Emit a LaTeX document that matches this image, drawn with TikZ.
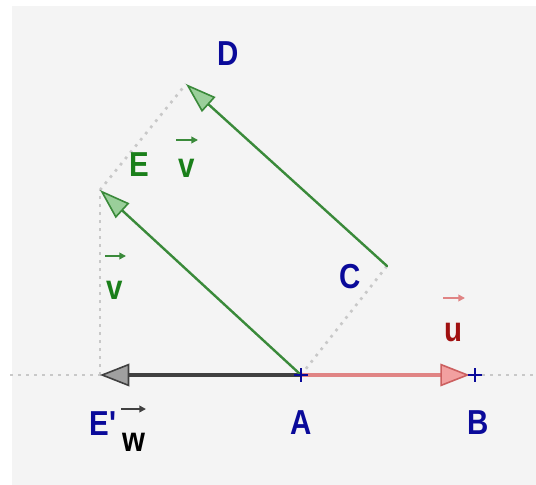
\documentclass[tikz,border=0pt]{standalone}
\usepackage{fontspec}
\setmainfont{Liberation Sans}[Ligatures=TeXOff]
\usetikzlibrary{arrows.meta}
\definecolor{bg}{HTML}{F4F4F4}
\definecolor{ptblue}{HTML}{0A0A9A}
\definecolor{lblgreen}{HTML}{1A7F1A}
\definecolor{vgreen}{HTML}{3A8A3A}
\definecolor{vgreenfill}{HTML}{9ACF9A}
\definecolor{ured}{HTML}{A01010}
\definecolor{uline}{HTML}{E08484}
\definecolor{uedge}{HTML}{CC6060}
\definecolor{ufill}{HTML}{F2A0A0}
\definecolor{wline}{HTML}{404040}
\definecolor{wfill}{HTML}{A0A0A0}
\definecolor{dotgray}{HTML}{C8C8C8}
\newcommand{\nlbl}[1]{\scalebox{0.85}[1]{#1}}
\begin{document}
\begin{tikzpicture}[x=0.75pt,y=-0.75pt,
  dotline/.style={dotgray,line width=2pt,dash pattern=on 2pt off 4pt},
  vecline/.style={line width=1.8pt,line cap=round},
  gvec/.style={vecline,vgreen,-{Triangle[length=23pt,width=15pt,fill=vgreenfill,line width=1.2pt]}},
  rvec/.style={vecline,line width=2.3pt,uline,shorten >=4pt,-{Triangle[length=22pt,width=17pt,fill=ufill,color=uedge,line width=1.2pt]}},
  wvec/.style={vecline,line width=2.3pt,wline,-{Triangle[length=22pt,width=17pt,fill=wfill,line width=1.2pt]}},
  lbl/.style={font=\fontsize{26}{30}\selectfont\bfseries,inner sep=0pt},
  ptlbl/.style={lbl,text=ptblue},
  small/.style={line width=1.6pt,-{Triangle[length=5pt,width=5pt]}},
  cross/.style={ptblue,line width=1.6pt}]
\useasboundingbox (0,0) rectangle (536,485);
\fill[white] (0,0) rectangle (536,485);
\fill[bg] (12,6) rectangle (536,485);
% points
\coordinate (A) at (301,375);
\coordinate (B) at (475,375);
\coordinate (Ep) at (100,375);
\coordinate (E) at (100,190);
\coordinate (C) at (387,266);
\coordinate (D) at (186,84);
\coordinate (L) at (10,375);
\coordinate (R) at (534,375);
% dotted helper lines
\draw[dotline] (L) -- (R);
\draw[dotline] (Ep) -- (E);
\draw[dotline] (E) -- (D);
\draw[dotline] (A) -- (C);
% vectors
\draw[wvec] (A) -- (Ep);
\draw[rvec] (A) -- (B);
\draw[gvec] (A) -- (E);
\draw[gvec] (C) -- (D);
% point crosses
\draw[cross] ([xshift=-5pt]A) -- ([xshift=5pt]A) ([yshift=-5pt]A) -- ([yshift=5pt]A);
\draw[cross] ([xshift=-5pt]B) -- ([xshift=5pt]B) ([yshift=-5pt]B) -- ([yshift=5pt]B);
% labels
\node[ptlbl] (lD) at (228,54) {\nlbl{D}};
\node[lbl,text=lblgreen] (lE) at (139,165) {\nlbl{E}};
\node[ptlbl] (lC) at (350,277) {\nlbl{C}};
\node[ptlbl] (lA) at (301,423) {\nlbl{A}};
\node[ptlbl] (lB) at (478,423) {\nlbl{B}};
\node[ptlbl] (lEp) at (103,424) {\nlbl{E'}};
\node[lbl,text=lblgreen] (lv1) at (187,168) {\nlbl{v}};
\node[lbl,text=lblgreen] (lv2) at (115,290) {\nlbl{v}};
\node[lbl,text=ured] (lu) at (453,333) {\nlbl{u}};
\node[lbl,text=black] (lw) at (134,442) {\nlbl{w}};
% small vector arrows above names
\draw[small,vgreen] (176,140) -- (198,140);
\draw[small,vgreen] (105,256) -- (126,256);
\draw[small,uline] (443,298) -- (465,298);
\draw[small,wline] (121,409) -- (146,409);
\end{tikzpicture}
\end{document}
